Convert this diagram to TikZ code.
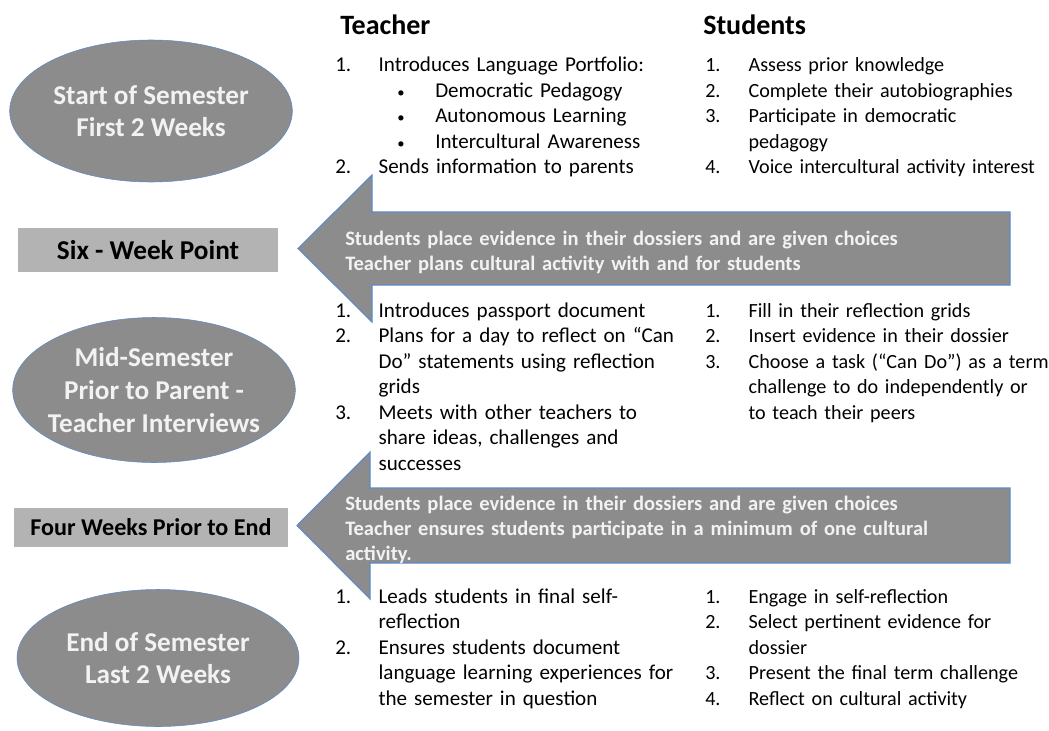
\documentclass[tikz,border=0pt]{standalone}
\usepackage{fontspec}
\setmainfont{Carlito}
\usetikzlibrary{shapes.geometric}
\definecolor{ovalgray}{HTML}{8C8C8C}
\definecolor{boxgray}{HTML}{B3B3B3}
\definecolor{edgeblue}{HTML}{5B8BC9}
\definecolor{paletext}{HTML}{F2F2F2}
\newcommand{\nr}[1]{\makebox[32.5pt][l]{#1}}
\newcommand{\hang}{\hspace*{32.5pt}}
\newcommand{\bul}{\hspace*{46.5pt}\makebox[28.5pt][l]{\fontsize{11}{11}\selectfont\textbullet}}

\begin{document}
\begin{tikzpicture}[x=0.75pt,y=-0.75pt,
    oval/.style={ellipse,draw=edgeblue,fill=ovalgray,text=paletext,inner sep=0pt,
        align=center,font=\fontsize{20.4}{24}\selectfont\bfseries},
    stagebox/.style={fill=boxgray,inner sep=0pt,font=\bfseries},
    colhead/.style={anchor=base west,inner sep=0pt,font=\fontsize{21}{25}\selectfont\bfseries},
    itemlist/.style={anchor=base west,inner sep=0pt,text width=400pt,align=left,
        font=\fontsize{#1}{19.125}\selectfont},
    bigarrow/.style={draw=edgeblue,fill=ovalgray,line width=0.8pt,line join=miter},
    arrowtext/.style={anchor=base west,inner sep=0pt,text width=500pt,align=left,
        text=paletext,font=\fontsize{15.4}{18.75}\selectfont\bfseries}]
    \useasboundingbox (0,0) rectangle (1049,731);

    % stages on the left
    \node[oval,minimum width=212pt,minimum height=106.5pt] (start) at (151,111)
        {Start of Semester\\First 2 Weeks};
    \node[stagebox,minimum width=195pt,minimum height=33pt,font=\fontsize{20.4}{24}\selectfont\bfseries]
        (six) at (148,250) {Six - Week Point};
    \node[oval,minimum width=212pt,minimum height=108.75pt,inner xsep=-15pt,inner ysep=-4pt,
        font=\fontsize{20.4}{24.75}\selectfont\bfseries]
        (mid) at (154,390) {Mid-Semester\\Prior to Parent -\\Teacher Interviews};
    \node[stagebox,minimum width=205.5pt,minimum height=29.25pt,font=\fontsize{18.1}{22}\selectfont\bfseries]
        (four) at (151,527.5) {Four Weeks Prior to End};
    \node[oval,minimum width=211.5pt,minimum height=102.75pt] (end) at (158,658)
        {End of Semester\\Last 2 Weeks};

    % the two arrows
    \draw[bigarrow] (1010,212) -- (372,212) -- (372,175) -- (298,248.5) -- (372,322) -- (372,285) -- (1010,285) -- cycle;
    \draw[bigarrow] (1010,488) -- (370,488) -- (370,452) -- (297,525.5) -- (370,599) -- (370,563) -- (1010,563) -- cycle;
    \node[arrowtext] (sixnote) at (345,245)
        {Students place evidence in their dossiers and are given choices\\
         Teacher plans cultural activity with and for students};
    \node[arrowtext] (fournote) at (345,510)
        {Students place evidence in their dossiers and are given choices\\
         Teacher ensures students participate in a minimum of one cultural\\
         activity.};

    % columns
    \node[colhead] (teacher) at (340,35) {Teacher};
    \node[colhead] (students) at (703,35) {Students};

    \node[itemlist=15.8] (t1) at (335,72)
        {\nr{1.}Introduces Language Portfolio:\\
         \bul Democratic Pedagogy\\
         \bul Autonomous Learning\\
         \bul Intercultural Awareness\\
         \nr{2.}Sends information to parents};
    \node[itemlist=15.1] (s1) at (705,72)
        {\nr{1.}Assess prior knowledge\\
         \nr{2.}Complete their autobiographies\\
         \nr{3.}Participate in democratic\\
         \hang pedagogy\\
         \nr{4.}Voice intercultural activity interest};

    \node[itemlist=15.8] (t2) at (335,317)
        {\nr{1.}Introduces passport document\\
         \nr{2.}Plans for a day to reflect on “Can\\
         \hang Do” statements using reflection\\
         \hang grids\\
         \nr{3.}Meets with other teachers to\\
         \hang share ideas, challenges and\\
         \hang successes};
    \node[itemlist=15.1] (s2) at (705,317)
        {\nr{1.}Fill in their reflection grids\\
         \nr{2.}Insert evidence in their dossier\\
         \nr{3.}Choose a task (“Can Do”) as a term\\
         \hang challenge to do independently or\\
         \hang to teach their peers};

    \node[itemlist=15.8] (t3) at (335,603)
        {\nr{1.}Leads students in final self-\\
         \hang reflection\\
         \nr{2.}Ensures students document\\
         \hang language learning experiences for\\
         \hang the semester in question};
    \node[itemlist=15.1] (s3) at (705,603)
        {\nr{1.}Engage in self-reflection\\
         \nr{2.}Select pertinent evidence for\\
         \hang dossier\\
         \nr{3.}Present the final term challenge\\
         \nr{4.}Reflect on cultural activity};
\end{tikzpicture}
\end{document}
